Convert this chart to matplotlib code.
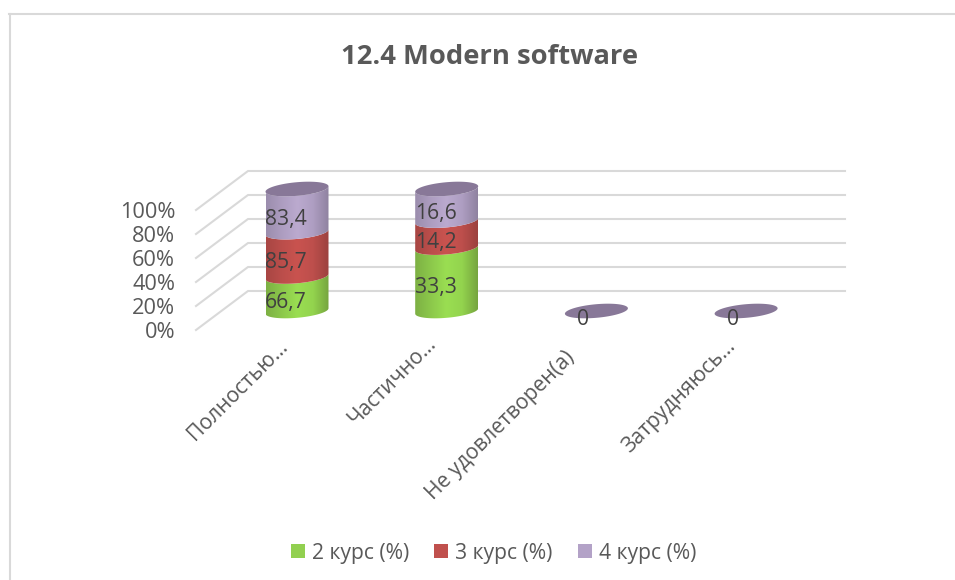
import numpy as np
import matplotlib
matplotlib.use("Agg")
import matplotlib.pyplot as plt
from matplotlib.colors import LinearSegmentedColormap
from matplotlib.lines import Line2D
from matplotlib.patches import Polygon, Patch
from matplotlib.transforms import ScaledTranslation

title = "12.4 Modern software"
categories = ["Полностью…", "Частично…", "Не удовлетворен(а)", "Затрудняюсь…"]
series_names = ["2 курс (%)", "3 курс (%)", "4 курс (%)"]
kurs2 = [66.7, 33.3, 0, 0]
kurs3 = [85.7, 14.2, 0, 0]
kurs4 = [83.4, 16.6, 0, 0]
value_ticks = [0, 20, 40, 60, 80, 100]

W, H = 955, 580
FONT = "Open Sans"
GRAY = "#595959"
DARK = "#404040"
GRID = "#D9D9D9"
legend_colors = ["#92D050", "#C0504D", "#B3A2C7"]
shades = [
    ["#7DB044", "#8CC84B", "#9ADE52", "#93D44E", "#76A53F"],
    ["#A84643", "#BB4E4B", "#C9534F", "#BD4F4C", "#9C413E"],
    ["#9B8DAD", "#AD9DC0", "#BBAACF", "#AE9EC2", "#8F82A0"],
]
cap_color = "#887898"
label_shift_px = [(-20, 6), (-21, 9), (-32, -5), (-21, 7)]

plt.rcParams["font.family"] = [FONT, "DejaVu Sans"]
fig = plt.figure(figsize=(W / 100, H / 100), dpi=100, facecolor="white")


def box(x0, ytop, x1, ybot):
    return [x0 / W, 1 - ybot / H, (x1 - x0) / W, (ybot - ytop) / H]


fig.add_artist(Line2D([9.5 / W, 9.5 / W], [0, 1 - 14 / H], color=GRID, lw=1.5))
fig.add_artist(Line2D([9 / W, 1], [1 - 14 / H, 1 - 14 / H], color=GRID, lw=1.5))

fig.text(489.5 / W, 1 - 57 / H, title, ha="center", va="center",
         fontsize=19.7, fontweight="bold", color=GRAY)

wall = fig.add_axes(box(196, 210, 845, 330), zorder=1)
wall.set_xlim(196, 845)
wall.set_ylim(0, 100)
wall.patch.set_alpha(0)
for s in wall.spines.values():
    s.set_visible(False)
wall.set_xticks([])
wall.set_yticks(value_ticks)
wall.set_yticklabels([f"{v}%" for v in value_ticks], fontsize=15.7, color=GRAY)
wall.tick_params(axis="y", length=0, pad=15)
depth_y = 39 / 1.2
for v in value_ticks:
    wall.plot([196, 248, 845], [v, v + depth_y, v + depth_y], color=GRID, lw=1.5,
              clip_on=False, solid_joinstyle="round")

ax = fig.add_axes(box(196, 189, 845, 311), zorder=2)
px_x = 149.7
px_y = 1.22
xlim = ((196 - 297) / px_x, (845 - 297) / px_x)
ylim = (0, 100)
ax.patch.set_alpha(0)
for s in ax.spines.values():
    s.set_visible(False)
ax.tick_params(axis="y", left=False, labelleft=False)

half_w = 31.5 / px_x
tilt = 2.7 / px_y
minor = 6.8 / px_y


def arc(cx, base, t):
    return cx + half_w * np.cos(t), base + tilt * np.cos(t) + minor * np.sin(t)


t_low = np.linspace(np.pi, 2 * np.pi, 60)
t_all = np.linspace(0, 2 * np.pi, 120)
grad = np.linspace(0, 1, 128)[None, :]
data = np.array([kurs2, kurs3, kurs4], dtype=float)
totals = data.sum(axis=0)

for i, cat in enumerate(categories):
    share = data[:, i] / totals[i] * 100 if totals[i] > 0 else np.zeros(3)
    bottom = 0.0
    for j in range(3):
        top = bottom + share[j]
        if share[j] > 0:
            xa, ya = arc(i, bottom, t_low)
            xb, yb = arc(i, top, t_low[::-1])
            poly = Polygon(np.column_stack([np.r_[xa, xb], np.r_[ya, yb]]),
                           closed=True, fc="none", ec="none", transform=ax.transData,
                           clip_on=False)
            ax.add_patch(poly)
            cmap = LinearSegmentedColormap.from_list(f"s{j}", shades[j])
            im = ax.imshow(grad, cmap=cmap, aspect="auto", zorder=3,
                           extent=(i - half_w, i + half_w, bottom - 10, top + 10),
                           interpolation="bilinear")
            im.set_clip_path(poly)
            im.set_clip_box(fig.bbox)
            ax.text(i - 11 / px_x, bottom + share[j] / 2 - 7, f"{data[j, i]:.1f}".replace(".", ","),
                    ha="center", va="center", fontsize=15.2, color=DARK, zorder=6)
        bottom = top
    xc, yc = arc(i, bottom, t_all)
    ax.fill(xc, yc, color=cap_color, lw=0, zorder=4, clip_on=False)
    if totals[i] == 0:
        ax.text(i - 13 / px_x, -7, "0", ha="center", va="center",
                fontsize=15.2, color=DARK, zorder=6)

ax.set_xlim(*xlim)
ax.set_ylim(*ylim)
ax.set_xticks(range(len(categories)))
ax.set_xticklabels(categories, rotation=45, ha="right", va="top",
                   rotation_mode="anchor", fontsize=15.2, color=GRAY)
ax.tick_params(axis="x", length=0, pad=22.5)
for lab, (dx, dy) in zip(ax.get_xticklabels(), label_shift_px):
    lab.set_transform(lab.get_transform() + ScaledTranslation(dx / 100, dy / 100, fig.dpi_scale_trans))

handles = [Patch(fc=c, ec="none") for c in legend_colors]
fig.legend(handles, series_names, loc="center", bbox_to_anchor=(493.5 / W, 1 - 553 / H),
           ncol=3, frameon=False, fontsize=15.2, labelcolor=GRAY,
           handlelength=0.66, handleheight=0.66, handletextpad=0.33,
           columnspacing=1.2, borderpad=0, borderaxespad=0)

fig.savefig("out.png", dpi=100, facecolor="white")
